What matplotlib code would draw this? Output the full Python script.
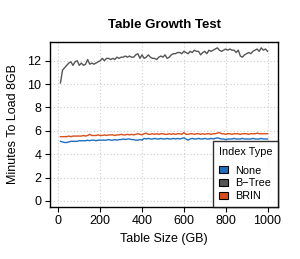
import numpy as np
import matplotlib.pyplot as plt

# table size in GB, one sample every 10 GB
table_size = np.arange(10, 1010, 10)

btree = [10.1, 11.2, 11.4, 11.6, 11.8, 11.9, 11.6, 11.9, 12.0, 11.6,
         11.8, 11.6, 11.7, 12.1, 11.7, 11.8, 11.7, 11.8, 11.9, 12.0,
         12.2, 12.0, 12.2, 12.2, 12.1, 12.2, 12.1, 12.3, 12.2, 12.3,
         12.3, 12.4, 12.3, 12.4, 12.3, 12.3, 12.5, 12.6, 12.2, 12.5,
         12.2, 12.3, 12.5, 12.3, 12.2, 12.2, 12.1, 12.3, 12.4, 12.3,
         12.5, 12.2, 12.3, 12.5, 12.6, 12.6, 12.7, 12.7, 12.6, 12.8,
         12.7, 12.6, 12.8, 12.7, 12.9, 12.8, 12.8, 12.5, 12.7, 12.8,
         12.6, 12.9, 12.8, 12.9, 13.0, 13.1, 12.9, 12.8, 12.9, 13.0,
         12.9, 13.0, 12.9, 12.9, 12.7, 12.9, 12.4, 12.3, 12.5, 12.6,
         12.7, 12.6, 12.8, 12.9, 13.0, 12.8, 13.1, 12.9, 13.0, 12.8]

none = [5.10, 5.05, 5.00, 5.00, 5.05, 5.10, 5.10, 5.10, 5.10, 5.15,
        5.15, 5.15, 5.15, 5.20, 5.15, 5.20, 5.20, 5.15, 5.20, 5.20,
        5.20, 5.20, 5.20, 5.25, 5.20, 5.20, 5.25, 5.20, 5.25, 5.25,
        5.30, 5.25, 5.30, 5.30, 5.25, 5.25, 5.20, 5.20, 5.25, 5.20,
        5.35, 5.30, 5.35, 5.30, 5.30, 5.35, 5.30, 5.30, 5.35, 5.30,
        5.30, 5.35, 5.30, 5.30, 5.35, 5.30, 5.35, 5.30, 5.35, 5.40,
        5.30, 5.20, 5.30, 5.35, 5.30, 5.30, 5.35, 5.30, 5.30, 5.35,
        5.30, 5.30, 5.35, 5.30, 5.35, 5.40, 5.35, 5.30, 5.30, 5.25,
        5.30, 5.30, 5.30, 5.35, 5.30, 5.30, 5.30, 5.35, 5.30, 5.30,
        5.30, 5.30, 5.35, 5.30, 5.30, 5.30, 5.35, 5.30, 5.30, 5.30]

brin = [5.50, 5.50, 5.50, 5.50, 5.55, 5.50, 5.55, 5.55, 5.55, 5.55,
        5.55, 5.60, 5.55, 5.60, 5.70, 5.60, 5.60, 5.60, 5.65, 5.60,
        5.60, 5.65, 5.60, 5.65, 5.65, 5.65, 5.60, 5.65, 5.65, 5.70,
        5.65, 5.65, 5.70, 5.65, 5.70, 5.65, 5.70, 5.75, 5.70, 5.65,
        5.75, 5.80, 5.70, 5.70, 5.75, 5.70, 5.75, 5.70, 5.75, 5.75,
        5.70, 5.70, 5.75, 5.70, 5.75, 5.70, 5.75, 5.75, 5.70, 5.85,
        5.70, 5.70, 5.75, 5.75, 5.70, 5.75, 5.75, 5.70, 5.75, 5.70,
        5.75, 5.75, 5.70, 5.75, 5.75, 5.80, 5.85, 5.75, 5.75, 5.70,
        5.75, 5.75, 5.70, 5.75, 5.75, 5.75, 5.70, 5.75, 5.75, 5.75,
        5.70, 5.75, 5.75, 5.75, 5.80, 5.75, 5.75, 5.75, 5.75, 5.75]

series = [("None", none, "#1f6fbf"),
          ("B\u2212Tree", btree, "#555555"),
          ("BRIN", brin, "#d94e1a")]

plt.rcParams['font.family'] = ['Liberation Sans', 'DejaVu Sans']

fig = plt.figure(figsize=(3.0, 2.59), dpi=100)
ax = fig.add_axes([50 / 300, 1 - 207 / 259, 228 / 300, 165 / 259])

for name, vals, col in series:
    ax.plot(table_size, vals, color=col, lw=1.0)

ax.set_xlim(-40, 1050)
ax.set_ylim(-0.52, 13.6)
ax.set_xticks([0, 200, 400, 600, 800, 1000])
ax.set_yticks([0, 2, 4, 6, 8, 10, 12])
ax.grid(True, color='#cccccc', linestyle=(0, (1, 2)), lw=0.8)
ax.tick_params(labelsize=9, length=3.6, width=0.8, color='black', pad=2.5)
for s in ax.spines.values():
    s.set_linewidth(1.0)

ax.set_xlabel("Table Size (GB)", fontsize=9, labelpad=4)
ax.set_ylabel("Minutes To Load 8GB", fontsize=9, labelpad=6)
ax.set_title("Table Growth Test", fontsize=9.5, fontweight='bold', pad=10)

handles = [plt.Rectangle((0, 0), 1, 1, facecolor=c, edgecolor='black', lw=0.8)
           for _, _, c in series]
leg = ax.legend(handles, [n for n, _, _ in series], title="Index Type",
                loc='lower right', bbox_to_anchor=(1.0, 0.0), fontsize=7.8,
                title_fontsize=7.8, frameon=True, fancybox=False,
                handlelength=0.8, handleheight=0.6, handletextpad=0.7,
                labelspacing=0.25, borderpad=0.55, borderaxespad=0.0)
leg.get_frame().set_edgecolor('black')
leg.get_frame().set_linewidth(1.0)
leg._legend_box.sep = 6

fig.savefig("out.png", dpi=100)
